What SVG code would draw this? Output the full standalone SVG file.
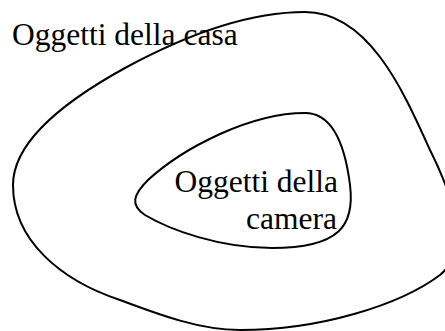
<svg xmlns="http://www.w3.org/2000/svg" width="445" height="331" viewBox="0 0 445 331">
<style>
.set{fill:none;stroke:#000;stroke-width:2}
.lbl{font-family:"Liberation Serif","Times New Roman",serif;font-size:31.5px;fill:#000}
</style>
<rect width="445" height="331" fill="#fff"/>
<g id="casa">
<path class="set" d="M 305 12 C 255 12, 195 30, 125 68 C 45 112, 13 150, 13 185 C 13 240, 60 280, 120 300 C 160 315, 200 330, 240 330 C 320 330, 400 305, 440 275 C 470 250, 455 200, 430 150 C 405 95, 370 12, 305 12 Z"/>
<text class="lbl" x="12" y="45">Oggetti della casa</text>
</g>
<g id="camera">
<path class="set" d="M 305 113 C 333 113, 345 145, 350 185 C 355 225, 340 248, 272 248 C 220 248, 170 230, 145 215 C 130 205, 133 195, 148 180 C 183 148, 250 113, 305 113 Z"/>
<text class="lbl" text-anchor="end" x="338" y="192">Oggetti della</text>
<text class="lbl" text-anchor="end" x="337" y="229">camera</text>
</g>
<g id="connectors"></g>
</svg>
